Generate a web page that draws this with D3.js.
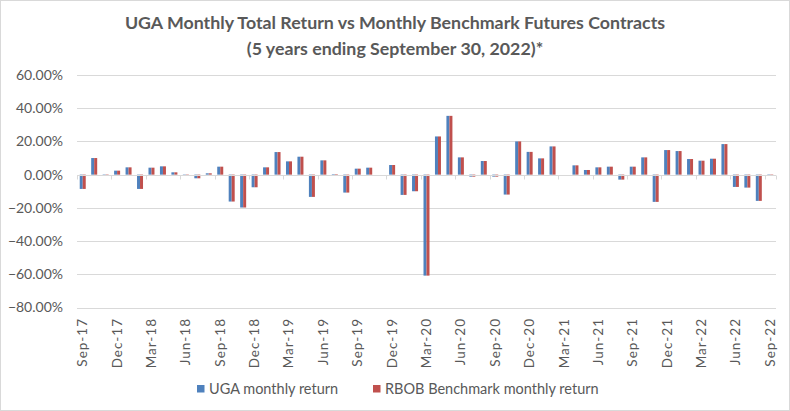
<!DOCTYPE html>
<html>
<head>
<meta charset="utf-8">
<script src="https://cdn.jsdelivr.net/npm/d3@7"></script>
<style>
  html, body { margin: 0; padding: 0; background: #fff; }
  svg { display: block; }
  text { font-family: Lato, "Open Sans", sans-serif; }
</style>
</head>
<body>
<svg id="chart" width="790" height="411"></svg>
<script>
const months = ["Sep-17","Oct-17","Nov-17","Dec-17","Jan-18","Feb-18","Mar-18","Apr-18","May-18","Jun-18","Jul-18","Aug-18",
  "Sep-18","Oct-18","Nov-18","Dec-18","Jan-19","Feb-19","Mar-19","Apr-19","May-19","Jun-19","Jul-19","Aug-19",
  "Sep-19","Oct-19","Nov-19","Dec-19","Jan-20","Feb-20","Mar-20","Apr-20","May-20","Jun-20","Jul-20","Aug-20",
  "Sep-20","Oct-20","Nov-20","Dec-20","Jan-21","Feb-21","Mar-21","Apr-21","May-21","Jun-21","Jul-21","Aug-21",
  "Sep-21","Oct-21","Nov-21","Dec-21","Jan-22","Feb-22","Mar-22","Apr-22","May-22","Jun-22","Jul-22","Aug-22","Sep-22"];

const ugaReturn = [-8.6, 10.0, -0.5, 2.4, 4.4, -8.6, 4.2, 5.0, 1.4, 0.2, -2.2, 0.8,
  4.8, -16.2, -19.8, -7.6, 4.4, 13.6, 8.0, 10.8, -13.4, 8.6, 0.3, -10.8,
  3.6, 4.2, 0.0, 5.8, -12.2, -10.0, -60.8, 23.0, 35.4, 10.4, -1.2, 8.2,
  -1.2, -12.0, 20.0, 13.7, 9.8, 17.0, 0.0, 5.6, 2.8, 4.4, 4.8, -3.0,
  4.8, 10.4, -16.4, 14.8, 14.2, 9.4, 8.4, 9.6, 18.4, -7.4, -7.8, -15.8, -0.8];

const rbobReturn = [-8.6, 10.0, -0.5, 2.4, 4.4, -8.6, 4.2, 5.0, 1.4, 0.2, -2.2, 0.8,
  4.8, -16.2, -19.8, -7.6, 4.4, 13.6, 8.0, 10.8, -13.4, 8.6, 0.3, -10.8,
  3.6, 4.2, 0.0, 5.8, -12.2, -10.0, -60.8, 23.0, 35.4, 10.4, -1.2, 8.2,
  -1.2, -12.0, 20.0, 13.7, 9.8, 17.0, 0.0, 5.6, 2.8, 4.4, 4.8, -3.0,
  4.8, 10.4, -16.4, 14.8, 14.2, 9.4, 8.4, 9.6, 18.4, -7.4, -7.8, -15.8, -0.8];

const yTicks = [60, 40, 20, 0, -20, -40, -60, -80];
const seriesNames = ["UGA monthly return", "RBOB Benchmark monthly return"];
const seriesColors = ["#4F81BD", "#C0504D"];
const titleLines = ["UGA Monthly Total Return vs Monthly Benchmark  Futures Contracts", "(5 years ending September 30, 2022)*"];

const svg = d3.select("#chart");
const W = 790, H = 411;
const plot = {left: 77, right: 776, top: 75, bottom: 307.5};

svg.append("rect").attr("x", 0.5).attr("y", 0.5).attr("width", W - 1).attr("height", H - 1)
  .attr("fill", "#fff").attr("stroke", "#D9D9D9");

// Title
svg.append("g").selectAll("text").data(titleLines).join("text")
  .attr("x", 395).attr("y", (d, i) => 28.5 + i * 26)
  .attr("text-anchor", "middle")
  .attr("font-size", 17.8).attr("font-weight", "bold").attr("fill", "#595959")
  .text(d => d);

const x = d3.scaleBand().domain(months).range([plot.left, plot.right]).paddingInner(0).paddingOuter(0);
const y = d3.scaleLinear().domain([-80, 60]).range([plot.bottom, plot.top]);

// gridlines
svg.append("g").selectAll("line").data(yTicks).join("line")
  .attr("x1", plot.left).attr("x2", plot.right)
  .attr("y1", d => Math.round(y(d)) + 0.5).attr("y2", d => Math.round(y(d)) + 0.5)
  .attr("stroke", "#D9D9D9").attr("stroke-width", 1);

// y axis labels
const yAxis = d3.axisLeft(y).tickValues(yTicks).tickSize(0).tickPadding(0)
  .tickFormat(d => d3.format(".2f")(d) + "%");
const gy = svg.append("g").attr("transform", `translate(${plot.left - 14},0)`).call(yAxis);
gy.select(".domain").remove();
gy.selectAll("text").attr("font-size", 14).attr("fill", "#595959")
  .attr("font-family", "Lato, sans-serif");

// bars
const x1 = d3.scaleBand().domain([0, 1]).range([0, 6]);
const barW = 3;
const bandOff = (x.bandwidth() - 6) / 2;
const seriesData = [ugaReturn, rbobReturn];
seriesData.forEach((vals, s) => {
  svg.append("g").selectAll("rect").data(vals).join("rect")
    .attr("x", (d, i) => x(months[i]) + bandOff + x1(s))
    .attr("width", barW)
    .attr("y", d => Math.min(y(d), y(0)))
    .attr("height", d => Math.abs(y(d) - y(0)))
    .attr("fill", seriesColors[s]);
});

// category axis at zero
const y0 = Math.round(y(0)) + 0.5;
svg.append("line").attr("x1", plot.left).attr("x2", plot.right).attr("y1", y0).attr("y2", y0)
  .attr("stroke", "#D9D9D9");
const tickIdx = months.map((m, i) => i).filter(i => i % 3 === 0);
svg.append("g").selectAll("line").data(tickIdx.concat([61])).join("line")
  .attr("x1", i => Math.round(plot.left + x.step() * i) + 0.5)
  .attr("x2", i => Math.round(plot.left + x.step() * i) + 0.5)
  .attr("y1", y0).attr("y2", y0 + 4)
  .attr("stroke", "#D9D9D9");

// x labels
svg.append("g").selectAll("text").data(tickIdx).join("text")
  .attr("transform", i => `translate(${x(months[i]) + x.bandwidth() / 2 + 4.5},318) rotate(-90)`)
  .attr("text-anchor", "end")
  .attr("font-size", 13.5).attr("letter-spacing", 1).attr("fill", "#595959")
  .text(i => months[i]);

// legend
const legendX = [197, 373];
const lg = svg.append("g").selectAll("g").data(seriesNames).join("g")
  .attr("transform", (d, i) => `translate(${legendX[i]},385)`);
lg.append("rect").attr("width", 7.5).attr("height", 7.5).attr("fill", (d, i) => seriesColors[i]);
lg.append("text").attr("x", 12).attr("y", 8.5).attr("font-size", 14.5).attr("fill", "#595959").text(d => d);
</script>
</body>
</html>
